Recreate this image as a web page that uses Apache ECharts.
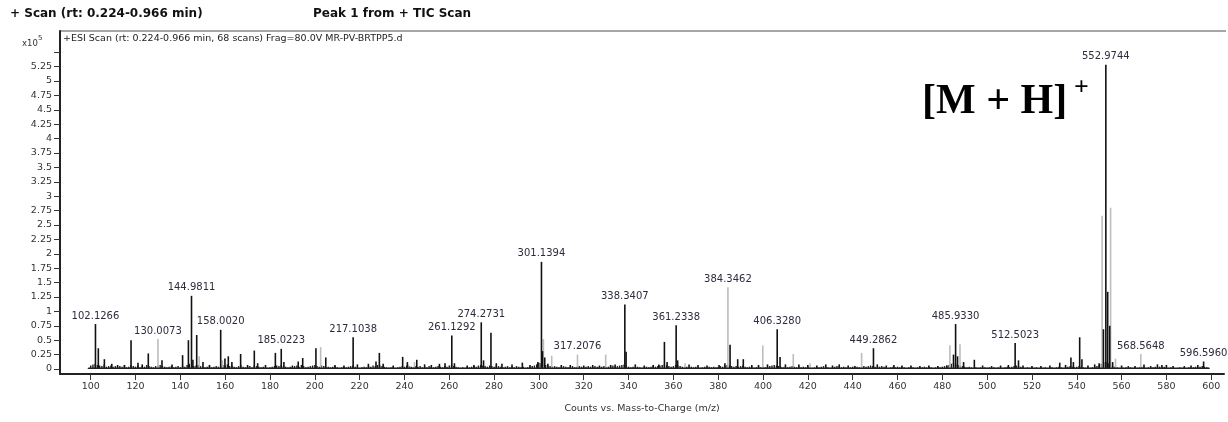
<!DOCTYPE html>
<html><head><meta charset="utf-8">
<script src="https://cdn.jsdelivr.net/npm/echarts@6/dist/echarts.min.js"></script>
<style>html,body{margin:0;padding:0;background:#fff}#c{width:1228px;height:422px}</style>
</head><body><div id="c"></div>
<script>
// ---------- data ----------
const xTicks = [100,120,140,160,180,200,220,240,260,280,300,320,340,360,380,400,420,440,460,480,500,520,540,560,580,600];
const yTickLabels = [0,0.25,0.5,0.75,1,1.25,1.5,1.75,2,2.25,2.5,2.75,3,3.25,3.5,3.75,4,4.25,4.5,4.75,5,5.25];
const yTicks = [0,0.25,0.5,0.75,1,1.25,1.5,1.75,2,2.25,2.5,2.75,3,3.25,3.5,3.75,4,4.25,4.5,4.75,5,5.25,5.5];

// labelled peaks: m/z, intensity (x10^5), tone (k = black, g = grey)
const labeledMz    = [102.1266,130.0073,144.9811,158.0020,185.0223,217.1038,261.1292,274.2731,301.1394,317.2076,338.3407,361.2338,384.3462,406.3280,449.2862,485.9330,512.5023,552.9744,568.5648,596.5960];
const labeledInt   = [0.78,0.52,1.27,0.68,0.35,0.55,0.58,0.81,1.86,0.25,1.12,0.76,1.42,0.69,0.36,0.78,0.45,5.28,0.26,0.13];
const labeledTone  = ['k','g','k','k','k','k','k','k','k','g','k','k','g','k','k','k','k','k','g','k'];

// other black sticks [m/z, intensity]
const blackPeaks = [[103.4,0.36],[106.1,0.17],[109.4,0.09],[112,0.07],[115.1,0.07],[118.0,0.5],[121.1,0.11],[123,0.08],[125.7,0.27],[131.8,0.15],[136.3,0.08],[141.0,0.24],[143.6,0.5],[145.6,0.16],[147.3,0.59],[150.1,0.12],[153,0.07],[159.9,0.18],[161.4,0.22],[163,0.12],[166.9,0.26],[170,0.07],[173.0,0.32],[174.5,0.1],[178,0.07],[182.4,0.28],[186.2,0.12],[190,0.06],[192.6,0.13],[194.6,0.19],[200.5,0.36],[204.9,0.2],[209,0.07],[213,0.06],[219,0.08],[223.9,0.09],[227.3,0.13],[228.8,0.28],[230.5,0.09],[235,0.06],[239.2,0.21],[241.3,0.12],[245.5,0.16],[249,0.08],[252,0.07],[255.6,0.09],[258.1,0.1],[262.3,0.1],[268,0.06],[271,0.07],[275.3,0.15],[278.6,0.63],[281,0.1],[283.5,0.09],[288,0.08],[292.6,0.11],[296,0.07],[299.5,0.12],[301.6,0.31],[302.6,0.2],[304,0.09],[310,0.07],[314,0.07],[320,0.06],[324,0.07],[327,0.06],[332,0.07],[334,0.08],[338.9,0.3],[343,0.08],[347,0.06],[351,0.07],[353.5,0.08],[356.0,0.47],[357.2,0.12],[361.9,0.15],[367,0.08],[371,0.07],[375,0.06],[380.4,0.07],[383,0.1],[385.3,0.42],[388.7,0.17],[391.2,0.17],[395,0.07],[398,0.07],[402,0.08],[407.6,0.21],[410,0.08],[416,0.08],[420,0.07],[424,0.06],[428,0.08],[431,0.06],[434,0.08],[438,0.06],[441,0.05],[451,0.08],[455,0.06],[458.4,0.07],[462,0.06],[466,0.06],[470,0.05],[474,0.06],[478,0.05],[482,0.06],[485.0,0.25],[486.8,0.22],[489.5,0.12],[494.3,0.16],[498,0.06],[502,0.05],[506,0.06],[509.5,0.07],[514,0.15],[516,0.06],[520,0.05],[524,0.05],[528,0.06],[532.4,0.11],[535,0.07],[537.4,0.2],[538.5,0.12],[541.3,0.55],[542.3,0.17],[545,0.06],[548,0.08],[550,0.1],[551.9,0.69],[553.8,1.34],[554.7,0.75],[556,0.12],[560,0.06],[563,0.05],[566,0.05],[570,0.08],[573,0.05],[576,0.08],[578,0.07],[580,0.07],[583,0.05],[588,0.05],[591,0.06],[594,0.07]];

// grey sticks [m/z, intensity]
const greyPeaks = [[148.4,0.22],[158.8,0.15],[202.6,0.38],[241.6,0.08],[244.5,0.12],[302.0,0.52],[305.7,0.23],[329.8,0.25],[365.2,0.1],[399.9,0.41],[413.5,0.26],[421,0.1],[444.0,0.28],[483.4,0.41],[487.9,0.43],[551.3,2.66],[555.1,2.8],[557.3,0.18]];

// baseline noise, one stick per m/z from 99 to 599
const grassStart = 99;
const grassHeights = [
0.02,0.06,0.08,0.09,0.07,0.06,0.05,0.08,0.04,0.05,
0.06,0.04,0.05,0.03,0.05,0.04,0.06,0.03,0.04,0.07,
0.05,0.04,0.06,0.03,0.05,0.04,0.07,0.05,0.04,0.03,
0.05,0.06,0.07,0.05,0.04,0.03,0.04,0.05,0.03,0.04,
0.05,0.03,0.06,0.04,0.07,0.09,0.06,0.05,0.06,0.07,
0.05,0.04,0.03,0.04,0.05,0.03,0.04,0.05,0.04,0.06,
0.07,0.06,0.08,0.05,0.06,0.04,0.03,0.05,0.07,0.04,
0.03,0.04,0.05,0.03,0.06,0.05,0.04,0.03,0.04,0.03,
0.02,0.03,0.04,0.05,0.06,0.05,0.07,0.05,0.04,0.03,
0.04,0.03,0.05,0.06,0.04,0.07,0.05,0.03,0.04,0.05,
0.06,0.07,0.05,0.04,0.06,0.05,0.03,0.04,0.03,0.04,
0.05,0.03,0.02,0.03,0.04,0.03,0.04,0.05,0.06,0.04,
0.03,0.02,0.03,0.04,0.03,0.05,0.04,0.06,0.05,0.07,
0.06,0.05,0.04,0.03,0.02,0.03,0.04,0.02,0.03,0.04,
0.05,0.04,0.06,0.05,0.04,0.03,0.05,0.04,0.05,0.03,
0.04,0.03,0.05,0.04,0.03,0.04,0.05,0.04,0.03,0.05,
0.04,0.06,0.07,0.05,0.04,0.03,0.02,0.03,0.02,0.04,
0.03,0.04,0.05,0.04,0.06,0.07,0.06,0.05,0.04,0.06,
0.05,0.04,0.06,0.05,0.04,0.03,0.04,0.05,0.03,0.04,
0.03,0.05,0.04,0.03,0.04,0.02,0.03,0.04,0.05,0.06,
0.08,0.11,0.10,0.09,0.07,0.06,0.05,0.04,0.05,0.04,
0.03,0.04,0.05,0.04,0.03,0.04,0.05,0.03,0.04,0.05,
0.04,0.03,0.04,0.05,0.04,0.03,0.05,0.04,0.03,0.04,
0.05,0.03,0.04,0.05,0.06,0.04,0.05,0.06,0.07,0.08,
0.06,0.04,0.03,0.04,0.03,0.04,0.03,0.02,0.03,0.04,
0.03,0.04,0.05,0.04,0.05,0.06,0.07,0.08,0.06,0.05,
0.04,0.05,0.07,0.06,0.05,0.04,0.03,0.04,0.03,0.04,
0.03,0.04,0.03,0.02,0.03,0.04,0.03,0.04,0.03,0.04,
0.03,0.04,0.05,0.04,0.06,0.07,0.06,0.05,0.04,0.05,
0.04,0.05,0.06,0.04,0.03,0.04,0.03,0.02,0.03,0.04,
0.03,0.04,0.03,0.04,0.05,0.06,0.07,0.06,0.05,0.04,
0.03,0.04,0.03,0.04,0.05,0.04,0.03,0.04,0.03,0.04,
0.03,0.04,0.03,0.02,0.03,0.04,0.03,0.04,0.05,0.04,
0.03,0.02,0.03,0.04,0.05,0.04,0.03,0.04,0.03,0.02,
0.03,0.04,0.03,0.04,0.03,0.04,0.05,0.04,0.05,0.06,
0.05,0.04,0.03,0.04,0.05,0.04,0.03,0.02,0.03,0.04,
0.03,0.04,0.03,0.04,0.03,0.02,0.03,0.04,0.03,0.02,
0.03,0.02,0.03,0.04,0.03,0.04,0.03,0.02,0.03,0.04,
0.03,0.04,0.05,0.06,0.07,0.09,0.10,0.08,0.07,0.06,
0.05,0.04,0.03,0.04,0.03,0.02,0.03,0.02,0.03,0.02,
0.03,0.02,0.03,0.02,0.03,0.02,0.03,0.03,0.02,0.03,
0.04,0.03,0.04,0.05,0.06,0.05,0.04,0.03,0.02,0.03,
0.02,0.03,0.02,0.03,0.02,0.03,0.02,0.03,0.02,0.03,
0.03,0.02,0.03,0.04,0.03,0.02,0.03,0.04,0.05,0.04,
0.03,0.04,0.05,0.04,0.03,0.02,0.03,0.02,0.03,0.04,
0.05,0.07,0.09,0.12,0.12,0.10,0.07,0.05,0.04,0.03,
0.02,0.03,0.02,0.03,0.02,0.03,0.02,0.03,0.02,0.03,
0.04,0.03,0.02,0.03,0.02,0.03,0.04,0.03,0.04,0.03,
0.04,0.03,0.02,0.03,0.02,0.01,0.02,0.03,0.02,0.03,
0.02,0.03,0.02,0.03,0.04,0.03,0.04,0.05,0.04,0.03,
0.02];
const baselineRange = [99, 599];

// ---------- chart ----------
const FONT = '"DejaVu Sans", Verdana, sans-serif';
const SERIF = '"Liberation Serif", "Times New Roman", serif';
const grassData = grassHeights.map((h, i) => [grassStart + i, h]);
const labeledData = labeledMz.map((m, i) => [m, labeledInt[i]]);

function stick(color, width) {
  return function (params, api) {
    const x = api.value(0), v = api.value(1);
    const p0 = api.coord([x, 0]), p1 = api.coord([x, v]);
    return {type: 'line', shape: {x1: p0[0], y1: p0[1], x2: p1[0], y2: p1[1]},
            style: {stroke: color, lineWidth: width}};
  };
}

const chart = echarts.init(document.getElementById('c'), null, {renderer: 'canvas'});
chart.setOption({
  animation: false,
  backgroundColor: '#fff',
  grid: {left: 60, right: 4, top: 31, bottom: 48},
  xAxis: {
    type: 'value', min: 86.3, max: 605.7,
    axisLine: {show: true, onZero: false, lineStyle: {color: '#222', width: 2}},
    axisTick: {show: true, length: 6, customValues: xTicks, lineStyle: {color: '#333', width: 1}},
    axisLabel: {customValues: xTicks, fontSize: 9.5, color: '#333', fontFamily: FONT, margin: 8},
    splitLine: {show: false},
    name: 'Counts vs. Mass-to-Charge (m/z)', nameLocation: 'middle', nameGap: 30,
    nameTextStyle: {fontSize: 9.5, color: '#333', fontFamily: FONT}
  },
  yAxis: {
    type: 'value', min: -0.087, max: 5.868,
    axisLine: {show: true, lineStyle: {color: '#222', width: 2}},
    axisTick: {show: true, length: 6, customValues: yTicks, lineStyle: {color: '#333', width: 1}},
    axisLabel: {customValues: yTickLabels, fontSize: 9.5, color: '#333', fontFamily: FONT, margin: 8,
                formatter: v => String(+v.toFixed(2))},
    splitLine: {show: false}
  },
  series: [
    {type: 'line', data: baselineRange.map(m => [m, 0.012]), symbol: 'none',
     lineStyle: {color: '#222', width: 1.5}, silent: true},
    {type: 'custom', renderItem: stick('#1a1a1a', 1.4), data: grassData, encode: {x: 0, y: 1}, silent: true},
    {type: 'custom', renderItem: stick('#bdbdbd', 1.6), data: greyPeaks, encode: {x: 0, y: 1}, silent: true},
    {type: 'custom', renderItem: stick('#111', 1.6), data: blackPeaks, encode: {x: 0, y: 1}, silent: true},
    {type: 'custom', data: labeledData, encode: {x: 0, y: 1}, silent: true,
     renderItem: function (params, api) {
       const i = params.dataIndex;
       const x = api.value(0), v = api.value(1);
       const p0 = api.coord([x, 0]), p1 = api.coord([x, v]);
       return {type: 'group', children: [
         {type: 'line', shape: {x1: p0[0], y1: p0[1], x2: p1[0], y2: p1[1]},
          style: {stroke: labeledTone[i] === 'g' ? '#bdbdbd' : '#111', lineWidth: 1.6}},
         {type: 'text', x: p1[0], y: p1[1] - 3,
          style: {text: labeledMz[i].toFixed(4), fontSize: 10, fontFamily: FONT, fill: '#2c2c3c',
                  textAlign: 'center', textVerticalAlign: 'bottom'}}
       ]};
     }}
  ],
  graphic: [
    {type: 'line', shape: {x1: 60, y1: 31, x2: 1226, y2: 31}, style: {stroke: '#888', lineWidth: 1.5}},
    {type: 'text', left: 10, top: 8, style: {text: '+ Scan (rt: 0.224-0.966 min)', font: 'bold 12px ' + FONT, fill: '#111'}},
    {type: 'text', left: 313, top: 8, style: {text: 'Peak 1 from + TIC Scan', font: 'bold 12px ' + FONT, fill: '#111'}},
    {type: 'text', left: 63, top: 34, style: {text: '+ESI Scan (rt: 0.224-0.966 min, 68 scans) Frag=80.0V MR-PV-BRTPP5.d', font: '9.5px ' + FONT, fill: '#222'}},
    {type: 'text', left: 22, top: 39, style: {text: 'x10', font: '8.5px ' + FONT, fill: '#333'}},
    {type: 'text', left: 38, top: 35, style: {text: '5', font: '7px ' + FONT, fill: '#333'}},
    {type: 'text', left: 922, top: 81, style: {text: '[M + H]', font: 'bold 42px ' + SERIF, fill: '#000'}},
    {type: 'text', left: 1074, top: 75, style: {text: '+', font: 'bold 26px ' + SERIF, fill: '#000'}}
  ]
});
</script>
</body></html>
